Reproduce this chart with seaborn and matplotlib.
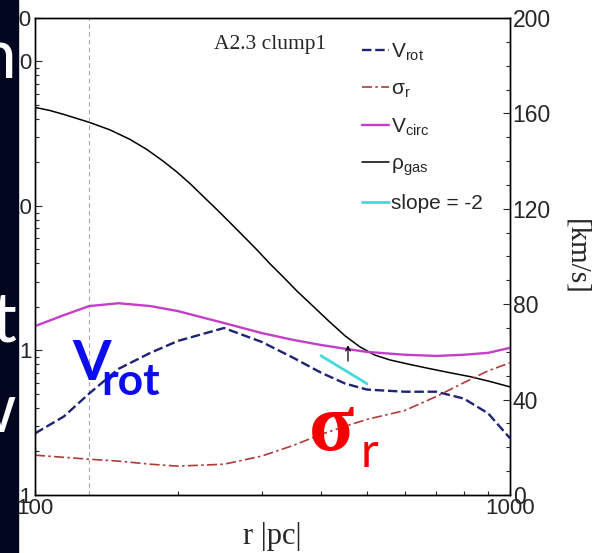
import numpy as np
import matplotlib
matplotlib.use("Agg")
import matplotlib.pyplot as plt
from matplotlib.patches import Rectangle
from matplotlib.ticker import AutoMinorLocator, FixedLocator, NullFormatter
import seaborn as sns

# radius grid [pc] and the velocity curves [km/s]
r_pc = [100, 115, 130, 150, 175, 200, 250, 300, 350, 400, 450, 500, 600, 700, 800, 900, 1000]
v_rot = [25.8, 32.9, 42.5, 52.9, 59.6, 64.6, 70.0, 64.2, 57.5, 51.3, 46.7, 44.2, 43.3, 43.3, 40.4, 34.2, 23.8]
sigma_r = [16.7, 15.8, 15.0, 14.2, 12.9, 12.1, 12.9, 16.3, 20.8, 25.4, 28.8, 31.7, 35.4, 41.3, 47.1, 52.1, 55.4]
v_circ = [70.8, 75.4, 79.2, 80.4, 79.2, 77.1, 72.1, 67.9, 65.0, 62.9, 61.3, 60.0, 58.8, 58.3, 58.8, 59.6, 61.7]

# gas density (left, log axis), read on a finer radius grid
rho_r = [100, 107.5, 115, 122.6, 130.5, 143.9, 158.5, 172, 185.9, 198.9, 212, 227, 241.6,
         257.4, 274, 293, 312, 334, 356, 384.7, 417, 450, 483, 519, 559, 616, 676, 750,
         823, 908, 1000]
rho_gas = [48.1, 45.8, 43.0, 40.3, 37.8, 33.6, 28.9, 24.6, 20.5, 17.2, 14.3, 11.5, 9.44,
           7.67, 6.24, 4.99, 4.00, 3.20, 2.58, 2.03, 1.58, 1.26, 1.06, 0.93, 0.86, 0.80,
           0.75, 0.70, 0.66, 0.61, 0.56]

# slope = -2 reference segment
slope_r = [400, 500]
slope_rho = [0.92, 0.589]

left_ticks = [0.1, 1, 10, 100, 200]
left_labels = ["0.1", "1", "10", "100", "200"]
right_ticks = [0, 40, 80, 120, 160, 200]

sns.set_style("ticks")
plt.rcParams['font.family'] = ['Liberation Sans', 'DejaVu Sans']
plt.rcParams['mathtext.default'] = 'regular'

fig = plt.figure(figsize=(6.03, 5.53), dpi=100)
ax = fig.add_axes([0.058, 0.1049, 0.7877, 0.8626])
ax2 = ax.twinx()

# density on left log axis
sns.lineplot(x=rho_r, y=rho_gas, ax=ax, color='black', lw=1.1)
sns.lineplot(x=slope_r, y=slope_rho, ax=ax, color='#45dada', lw=2.0)
ax.set_xscale('log')
ax.set_yscale('log')
ax.set_xlim(100, 1000)
ax.set_ylim(0.1, 200)
ax.axvline(130, color='0.65', ls=(0, (4, 3)), lw=0.8)

# velocities on right axis
sns.lineplot(x=r_pc, y=v_rot, ax=ax2, color='#1f2275', lw=1.7, ls=(0, (4, 1.6)))
sns.lineplot(x=r_pc, y=sigma_r, ax=ax2, color='#b03a3a', lw=1.2, ls=(0, (6, 2, 1.5, 2)))
sns.lineplot(x=r_pc, y=v_circ, ax=ax2, color='#c43ec8', lw=1.7)
ax2.set_ylim(0, 200)
ax2.set_xlim(100, 1000)
ax2.annotate('', xy=(456, 64), xytext=(456, 55),
             arrowprops=dict(arrowstyle='->', color='black', lw=0.9, mutation_scale=8))

# ticks
ax.xaxis.set_major_locator(FixedLocator([100, 1000]))
ax.set_xticklabels(["100", "1000"])
ax.xaxis.set_minor_locator(FixedLocator([200, 300, 400, 500, 600, 700, 800, 900]))
ax.xaxis.set_minor_formatter(NullFormatter())
ax.yaxis.set_major_locator(FixedLocator(left_ticks))
ax.set_yticklabels(left_labels)
ax.yaxis.set_minor_formatter(NullFormatter())
ax2.yaxis.set_major_locator(FixedLocator(right_ticks))
ax2.yaxis.set_minor_locator(AutoMinorLocator(4))
ax.tick_params(axis='both', which='both', direction='in', labelsize=16, pad=2, top=False)
ax.tick_params(which='major', length=5, width=0.8)
ax.tick_params(which='minor', length=3, width=0.8)
ax2.tick_params(axis='y', which='both', direction='in', labelsize=16.5, pad=2)
ax2.tick_params(which='major', length=5, width=0.8)
ax2.tick_params(which='minor', length=3, width=0.8)
for a in (ax, ax2):
    for s in a.spines.values():
        s.set_linewidth(1.0)
        s.set_color('black')
ax.grid(False)
ax2.grid(False)

ax.set_xlabel("r |pc|", family='Liberation Serif', fontsize=22, labelpad=2)
ax2.set_ylabel("[km/s]", family='Liberation Serif', fontsize=21, rotation=270, labelpad=28)
ax.text(0.494, 0.945, "A2.3 clump1", transform=ax.transAxes, ha='center', va='center',
        family='Liberation Serif', fontsize=15.5)

# legend
handles = ax2.get_lines()[:3] + [ax.get_lines()[0], ax.get_lines()[1]]
labels = ["V$_{rot}$", "$\\sigma_r$", "V$_{circ}$", "$\\rho_{gas}$", "slope = -2"]
leg = ax2.legend(handles, labels, loc='upper left', bbox_to_anchor=(0.688, 0.951),
                 frameon=False, fontsize=15, handlelength=1.3, handletextpad=0.12,
                 labelspacing=0.8, borderpad=0, borderaxespad=0)

# slide overlay: dark strip on the left with clipped white letters
strip = Rectangle((0, 0), 18 / 603, 1, transform=fig.transFigure, color='#03061f', zorder=10)
fig.add_artist(strip)
for ch, yb in [("h", 78), ("t", 342), ("w", 432)]:
    t = fig.text(16 / 603, 1 - yb / 553, ch, color='white', fontsize=50, family='Lato',
                 ha='right', va='baseline', zorder=11)
    t.set_clip_path(strip)

# slide annotations
fig.text(72 / 603, 1 - 380 / 553, "V", color='#0c0cf0', fontsize=40, family='Lato',
         weight='bold', ha='left', va='baseline', zorder=12)
fig.text(101 / 603, 1 - 395 / 553, "rot", color='#0c0cf0', fontsize=32, family='Lato',
         weight='bold', ha='left', va='baseline', zorder=12)
fig.text(309 / 603, 1 - 450 / 553, "\u03c3", color='#f50000', fontsize=60, family='Liberation Serif',
         weight='bold', ha='left', va='baseline', zorder=12)
fig.text(361 / 603, 1 - 467 / 553, "r", color='#f50000', fontsize=35, family='Lato',
         ha='left', va='baseline', zorder=12)

fig.savefig("out.png", dpi=100)
